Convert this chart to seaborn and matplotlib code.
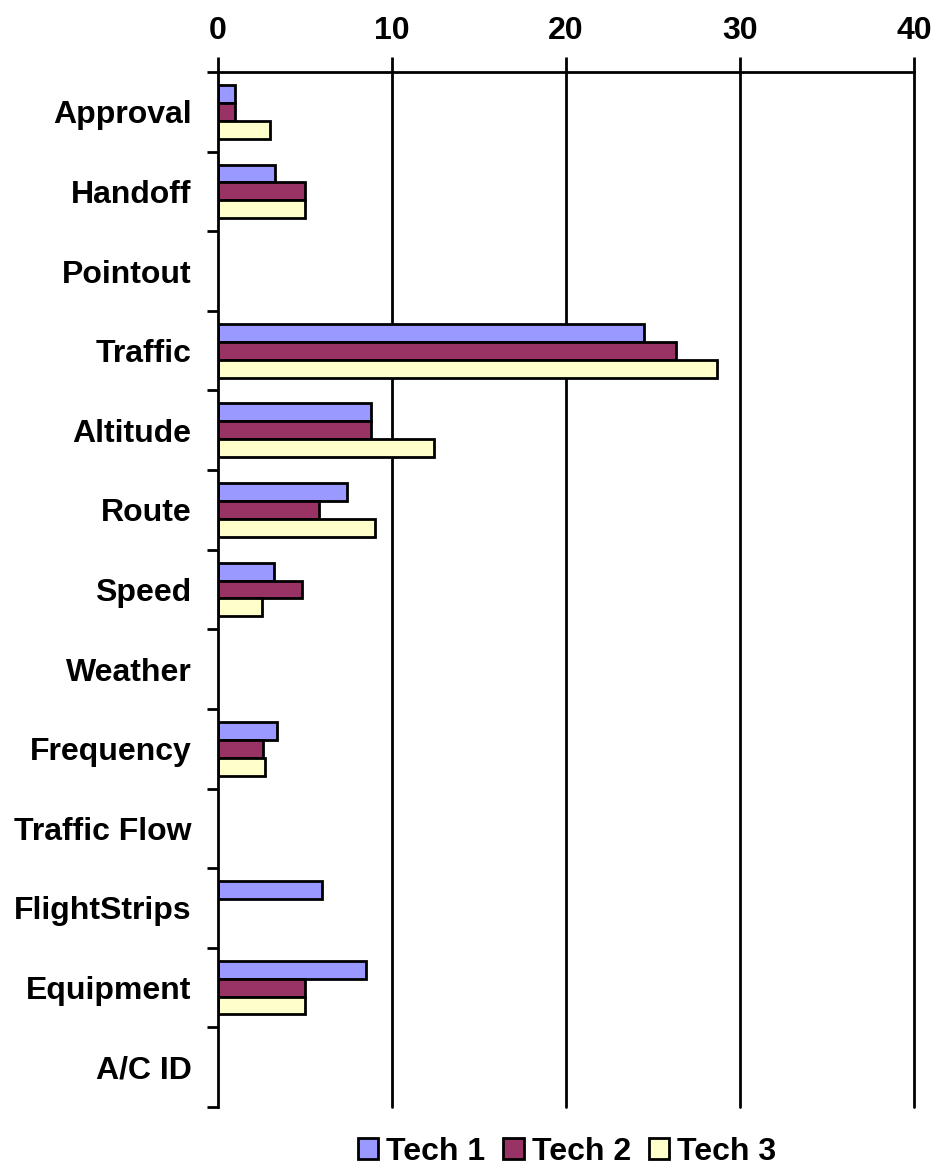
import matplotlib
matplotlib.use("Agg")
import matplotlib.pyplot as plt
import seaborn as sns
import pandas as pd
from matplotlib.patches import Patch
from matplotlib.ticker import FixedLocator

categories = ["Approval", "Handoff", "Pointout", "Traffic", "Altitude", "Route",
              "Speed", "Weather", "Frequency", "Traffic Flow", "FlightStrips",
              "Equipment", "A/C ID"]
tech1 = [1.0, 3.3, 0, 24.5, 8.8, 7.4, 3.2, 0, 3.4, 0, 6.0, 8.5, 0]
tech2 = [1.0, 5.0, 0, 26.3, 8.8, 5.8, 4.8, 0, 2.6, 0, 0, 5.0, 0]
tech3 = [3.0, 5.0, 0, 28.7, 12.4, 9.0, 2.5, 0, 2.7, 0, 0, 5.0, 0]
series_names = ["Tech 1", "Tech 2", "Tech 3"]
colors = ["#9999FF", "#993366", "#FFFFCC"]
xticks = [0, 10, 20, 30, 40]

rows = []
for name, vals in zip(series_names, [tech1, tech2, tech3]):
    for c, v in zip(categories, vals):
        rows.append({"Category": c, "Series": name, "Value": v})
df = pd.DataFrame(rows)

sns.set_theme(style="white")
plt.rcParams['font.family'] = ['Liberation Sans', 'DejaVu Sans']
plt.rcParams['font.weight'] = 'bold'
plt.rcParams['text.color'] = 'black'
plt.rcParams['xtick.color'] = 'black'
plt.rcParams['ytick.color'] = 'black'
plt.rcParams['xtick.labelcolor'] = 'black'
plt.rcParams['ytick.labelcolor'] = 'black'

FS = 23

fig = plt.figure(figsize=(9.38, 11.71), dpi=100)
ax = fig.add_axes([218/938, 1 - 1107/1171, (914 - 218)/938, (1107 - 72)/1171])

sns.barplot(data=df, y="Category", x="Value", hue="Series", order=categories,
            hue_order=series_names, palette=colors, orient="h", width=0.675,
            edgecolor="black", linewidth=2, saturation=1, ax=ax, legend=False)

for p in ax.patches:
    if p.get_width() == 0:
        p.set_visible(False)

ax.set_xlim(0, 40)
ax.set_ylim(len(categories) - 0.5, -0.5)
ax.set_xlabel("")
ax.set_ylabel("")

for xv in xticks[1:]:
    ax.axvline(xv, color="black", lw=2, zorder=0, clip_on=False)

ax.xaxis.tick_top()
ax.set_xticks(xticks)
ax.set_xticklabels([str(t) for t in xticks], fontsize=FS, fontweight="bold", color="black")
ax.tick_params(axis="x", direction="out", length=11, width=2, color="black", pad=8, top=True, bottom=False)

ax.set_yticks(range(len(categories)))
ax.set_yticklabels(categories, fontsize=FS, fontweight="bold", color="black")
ax.yaxis.set_minor_locator(FixedLocator([i - 0.5 for i in range(len(categories) + 1)]))
ax.tick_params(axis="y", which="major", length=0, pad=19)
ax.tick_params(axis="y", which="minor", length=8, width=2, color="black", left=True, direction="out")

for s in ["right", "bottom"]:
    ax.spines[s].set_visible(False)
for s in ["top", "left"]:
    ax.spines[s].set_visible(True)
    ax.spines[s].set_color("black")
    ax.spines[s].set_linewidth(2)

handles = [Patch(facecolor=c, edgecolor="black", linewidth=2, label=n) for c, n in zip(colors, series_names)]
fig.legend(handles=handles, loc="center", bbox_to_anchor=(567/938, 1 - 1152/1171), ncol=3,
           frameon=False, prop={"size": FS, "weight": "bold"}, handlelength=0.65,
           handleheight=0.65, handletextpad=0.25, columnspacing=0.55, labelcolor="black")

fig.savefig("out.png", dpi=100, facecolor="white")
